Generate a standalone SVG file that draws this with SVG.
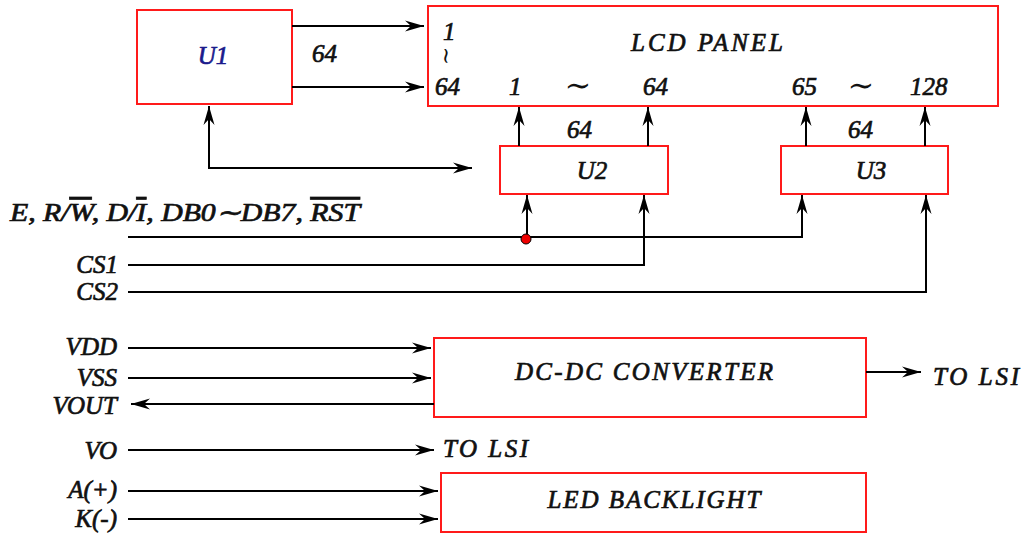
<svg xmlns="http://www.w3.org/2000/svg" width="1025" height="535" viewBox="0 0 1025 535">
<style>
.box{fill:#fff;stroke:#ff1a1a;stroke-width:2}
.ln{fill:none;stroke:#000;stroke-width:2}
.t{font-family:"Liberation Serif",serif;font-style:italic;font-weight:normal;font-size:25px;fill:#111;stroke:#111;stroke-width:0.7}
.e{text-anchor:end}
.m{text-anchor:middle}
.ov{text-decoration:overline}
.tl{font-family:"DejaVu Serif",serif;font-size:32px;fill:#111;text-anchor:middle}
</style>
<defs>
<marker id="ah" markerUnits="userSpaceOnUse" markerWidth="24" markerHeight="14" viewBox="-20 -7 22 14" refX="0" refY="0" orient="auto">
<path d="M-19,-5.5 L0,0 L-19,5.5 L-13,0 Z" fill="#000"/>
</marker>
</defs>
<rect width="1025" height="535" fill="#fff"/>

<g id="U1">
<rect class="box" x="137" y="10" width="155" height="94"/>
<text class="t m" x="213" y="64" style="fill:#1a1a8c;stroke:#1a1a8c">U1</text>
</g>

<g id="LCD">
<rect class="box" x="428" y="6" width="570" height="100"/>
<text class="t m" x="707" y="51" textLength="152" lengthAdjust="spacing">LCD  PANEL</text>
<text class="t" x="443" y="40">1</text>
<text class="tl" x="447" y="64" transform="rotate(90 447 56)" style="font-size:22px">∼</text>
<text class="t" x="435" y="95">64</text>
<text class="t" x="509" y="95">1</text>
<text class="tl" x="578" y="96">∼</text>
<text class="t" x="643" y="95">64</text>
<text class="t" x="792" y="95">65</text>
<text class="tl" x="861" y="96">∼</text>
<text class="t" x="910" y="95">128</text>
</g>

<g id="U2">
<rect class="box" x="500" y="146" width="168" height="48"/>
<text class="t m" x="592" y="179">U2</text>
</g>

<g id="U3">
<rect class="box" x="781" y="146" width="167" height="48"/>
<text class="t m" x="871" y="179">U3</text>
</g>

<g id="DCDC">
<rect class="box" x="434" y="338" width="432" height="79"/>
<text class="t m" x="644" y="380" textLength="258" lengthAdjust="spacing">DC-DC  CONVERTER</text>
</g>

<g id="LED">
<rect class="box" x="441" y="473" width="425" height="59"/>
<text class="t m" x="654" y="508" textLength="213" lengthAdjust="spacing">LED BACKLIGHT</text>
</g>

<g id="labels">
<text class="t" x="312" y="62">64</text>
<text class="t" x="567" y="138">64</text>
<text class="t" x="848" y="138">64</text>
<text class="t" x="10" y="221" textLength="350" lengthAdjust="spacingAndGlyphs">E, R/<tspan class="ov">W</tspan>, D/<tspan class="ov">I</tspan>, DB0∼DB7, <tspan class="ov">RST</tspan></text>
<text class="t e" x="118" y="273">CS1</text>
<text class="t e" x="118" y="300">CS2</text>
<text class="t e" x="117" y="355">VDD</text>
<text class="t e" x="117" y="386">VSS</text>
<text class="t e" x="117" y="414">VOUT</text>
<text class="t e" x="117" y="459">VO</text>
<text class="t e" x="117" y="498">A(+)</text>
<text class="t e" x="117" y="527">K(-)</text>
<text class="t" x="933" y="385" textLength="86" lengthAdjust="spacing">TO  LSI</text>
<text class="t" x="443" y="457" textLength="85" lengthAdjust="spacing">TO  LSI</text>
</g>

<g id="connectors">
<line class="ln" x1="292" y1="26" x2="424" y2="26" marker-end="url(#ah)"/>
<line class="ln" x1="292" y1="87" x2="424" y2="87" marker-end="url(#ah)"/>
<line class="ln" x1="209" y1="168" x2="209" y2="106" marker-end="url(#ah)"/>
<line class="ln" x1="208" y1="168" x2="472" y2="168" marker-end="url(#ah)"/>
<line class="ln" x1="519" y1="146" x2="519" y2="107" marker-end="url(#ah)"/>
<line class="ln" x1="648" y1="146" x2="648" y2="107" marker-end="url(#ah)"/>
<line class="ln" x1="806" y1="146" x2="806" y2="107" marker-end="url(#ah)"/>
<line class="ln" x1="925" y1="146" x2="925" y2="107" marker-end="url(#ah)"/>
<line class="ln" x1="527" y1="238" x2="527" y2="195" marker-end="url(#ah)"/>
<polyline class="ln" points="128,237 802,237 802,195" marker-end="url(#ah)"/>
<polyline class="ln" points="128,265 644,265 644,195" marker-end="url(#ah)"/>
<polyline class="ln" points="128,292 926,292 926,195" marker-end="url(#ah)"/>
<circle cx="526" cy="239" r="5" fill="#ee0000" stroke="#000" stroke-width="1"/>
<line class="ln" x1="128" y1="348" x2="431" y2="348" marker-end="url(#ah)"/>
<line class="ln" x1="128" y1="378" x2="431" y2="378" marker-end="url(#ah)"/>
<line class="ln" x1="434" y1="404" x2="131" y2="404" marker-end="url(#ah)"/>
<line class="ln" x1="866" y1="372" x2="921" y2="372" marker-end="url(#ah)"/>
<line class="ln" x1="128" y1="450" x2="434" y2="450" marker-end="url(#ah)"/>
<line class="ln" x1="128" y1="491" x2="438" y2="491" marker-end="url(#ah)"/>
<line class="ln" x1="128" y1="519" x2="438" y2="519" marker-end="url(#ah)"/>
</g>
</svg>
